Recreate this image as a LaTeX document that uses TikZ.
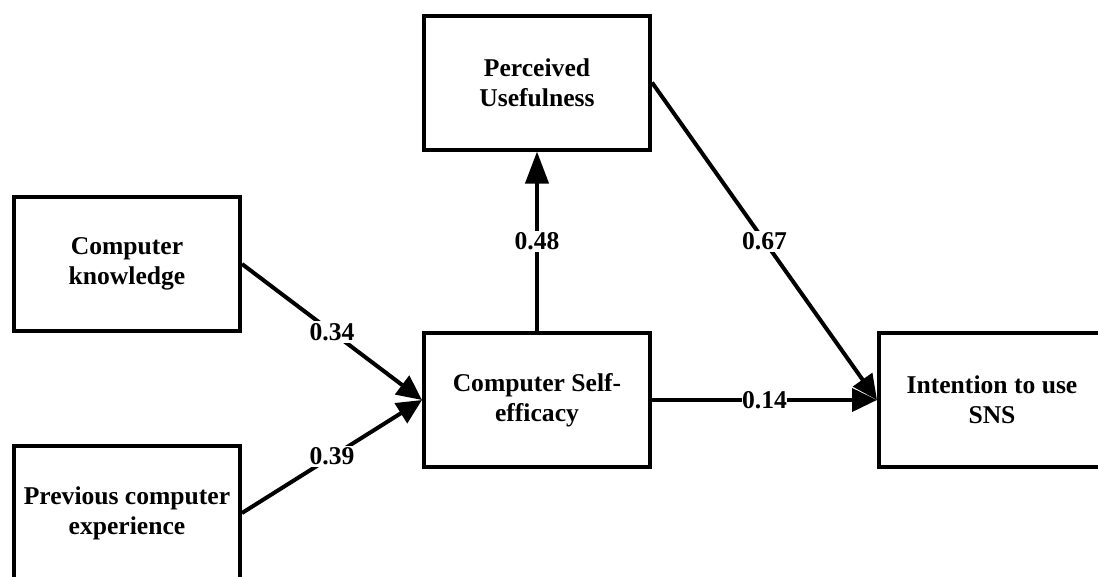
\documentclass[tikz,border=0pt]{standalone}
\usepackage{fontspec}
\setmainfont{Liberation Serif}
\usetikzlibrary{arrows.meta}
\begin{document}
\begin{tikzpicture}[x=1pt,y=-1pt,
  box/.style={draw, line width=4pt, rectangle, minimum width=226pt, minimum height=134pt,
    align=center, inner sep=0pt, font=\fontsize{25.6pt}{30pt}\selectfont\bfseries},
  conn/.style={line width=4pt, -{Triangle[length=25pt,width=23pt]}},
  lbl/.style={midway, fill=white, inner sep=2pt, font=\fontsize{25.6pt}{30pt}\selectfont\bfseries}]
\useasboundingbox (0,0) rectangle (1098,576);
\node[box] (ck) at (127,264) {Computer\\knowledge};
\node[box] (pce) at (127,513) {Previous computer\\experience};
\node[box] (cse) at (537,400) {Computer Self-\\efficacy};
\node[box] (pu) at (537,82.5) {Perceived\\Usefulness};
\node[box] (itu) at (992,400) {Intention to use\\SNS};
\draw[conn] (ck.east) -- node[lbl] {0.34} (cse.west);
\draw[conn] (pce.east) -- node[lbl] {0.39} (cse.west);
\draw[line width=4pt, -{Triangle[length=32pt,width=23pt]}] (cse.north) -- node[lbl] {0.48} (pu.south);
\draw[conn] (pu.east) -- node[lbl] {0.67} (itu.west);
\draw[conn] (cse.east) -- node[lbl, inner sep=0pt] {0.14} (itu.west);
\end{tikzpicture}
\end{document}
